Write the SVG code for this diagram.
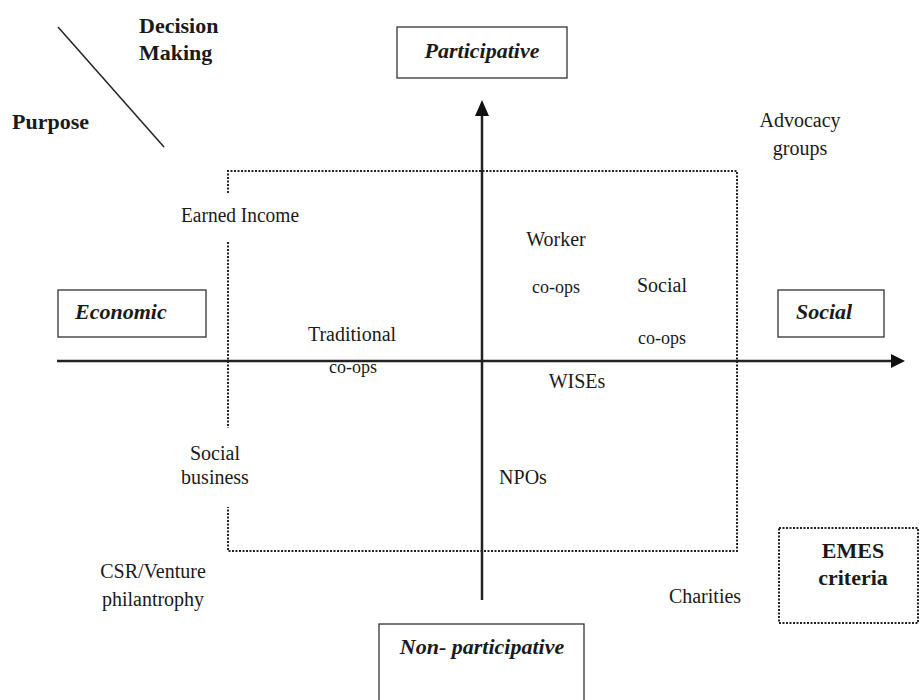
<svg xmlns="http://www.w3.org/2000/svg" width="919" height="700" viewBox="0 0 919 700">
<style>
text{font-family:"Liberation Serif","Times New Roman",serif;fill:#1a1a1a}
.t{font-size:20px}
.s{font-size:18px}
.b{font-size:22px;font-weight:bold}
.bi{font-size:22px;font-weight:bold;font-style:italic}
.box{fill:#fff;stroke:#333;stroke-width:1.3}
.dot{fill:none;stroke:#222;stroke-width:2;stroke-dasharray:2 1.5}
.ax{stroke:#222;stroke-width:2.5;fill:none}
</style>
<rect width="919" height="700" fill="#fff"/>
<g id="connectors">
<line x1="58" y1="27" x2="164" y2="147" stroke="#222" stroke-width="1.5"/>
<path class="dot" d="M228,193 V171 H737 V551 H228 V507"/>
<line class="dot" x1="228" y1="242" x2="228" y2="428"/>
<path d="M57,361 H893" class="ax"/>
<path d="M905,361 L891,354 L891,368 Z" fill="#111"/>
<path d="M482,600 V112" class="ax"/>
<path d="M482,100 L475,116 L489,116 Z" fill="#111"/>
</g>
<g id="corner">
<text class="b" x="139" y="33">Decision</text>
<text class="b" x="139" y="60">Making</text>
<text class="b" x="12" y="129">Purpose</text>
</g>
<g id="participative">
<rect class="box" x="397" y="27" width="170" height="51"/>
<text class="bi" x="482" y="58" text-anchor="middle">Participative</text>
</g>
<g id="economic">
<rect class="box" x="58" y="290" width="148" height="47"/>
<text class="bi" x="75" y="319">Economic</text>
</g>
<g id="social">
<rect class="box" x="778" y="290" width="106" height="47"/>
<text class="bi" x="796" y="319">Social</text>
</g>
<g id="non-participative">
<rect class="box" x="379" y="624" width="205" height="90"/>
<text class="bi" x="482" y="654" text-anchor="middle">Non- participative</text>
</g>
<g id="emes">
<rect class="dot" x="779" y="528" width="139" height="95"/>
<text class="b" x="853" y="558" text-anchor="middle">EMES</text>
<text class="b" x="853" y="585" text-anchor="middle">criteria</text>
</g>
<g id="earned-income"><text class="t" x="240" y="222" text-anchor="middle" textLength="118" lengthAdjust="spacingAndGlyphs">Earned Income</text></g>
<g id="worker-coops">
<text class="t" x="556" y="246" text-anchor="middle">Worker</text>
<text class="s" x="556" y="293" text-anchor="middle">co-ops</text>
</g>
<g id="social-coops">
<text class="t" x="662" y="292" text-anchor="middle">Social</text>
<text class="s" x="662" y="344" text-anchor="middle">co-ops</text>
</g>
<g id="traditional-coops">
<text class="t" x="352" y="341" text-anchor="middle">Traditional</text>
<text class="s" x="353" y="373" text-anchor="middle">co-ops</text>
</g>
<g id="wises"><text class="t" x="577" y="388" text-anchor="middle">WISEs</text></g>
<g id="social-business">
<text class="t" x="215" y="460" text-anchor="middle">Social</text>
<text class="t" x="215" y="484" text-anchor="middle">business</text>
</g>
<g id="npos"><text class="t" x="523" y="484" text-anchor="middle">NPOs</text></g>
<g id="advocacy">
<text class="t" x="800" y="127" text-anchor="middle">Advocacy</text>
<text class="t" x="800" y="155" text-anchor="middle">groups</text>
</g>
<g id="csr">
<text class="t" x="153" y="578" text-anchor="middle" font-size="19">CSR/Venture</text>
<text class="t" x="153" y="606" text-anchor="middle">philantrophy</text>
</g>
<g id="charities"><text class="t" x="705" y="603" text-anchor="middle">Charities</text></g>
</svg>
